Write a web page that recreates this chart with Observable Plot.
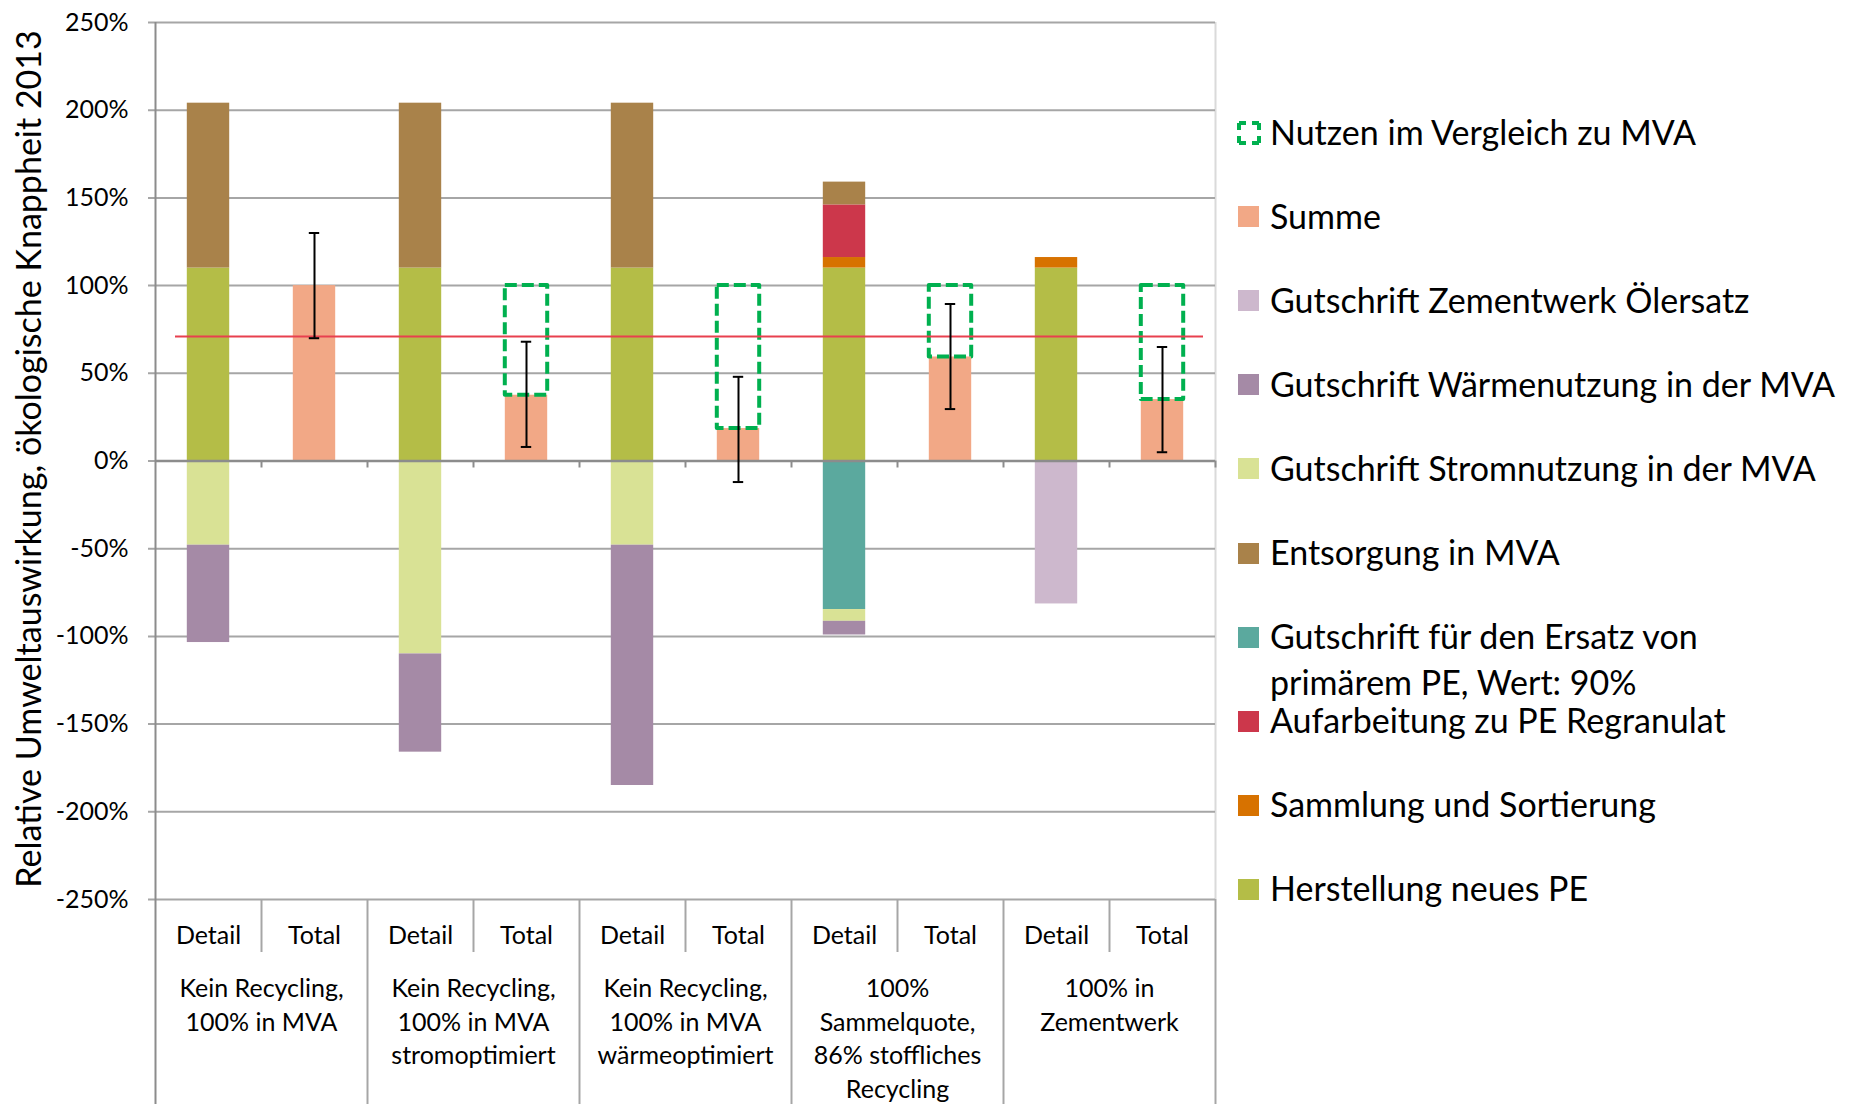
<!DOCTYPE html>
<html><head><meta charset="utf-8">
<script src="https://cdn.jsdelivr.net/npm/d3@7"></script>
<script src="https://cdn.jsdelivr.net/npm/@observablehq/plot@0.6"></script>
<style>
body{margin:0;background:#fff;font-family:Lato,sans-serif;}
#wrap{position:relative;width:1861px;height:1104px;overflow:hidden;background:#fff;}
#chart{position:absolute;left:0;top:0;}
#legend{position:absolute;left:0;top:0;width:1861px;height:1104px;pointer-events:none;}
.lt{position:absolute;left:1270px;font-size:34px;line-height:46px;color:#000;white-space:nowrap;}
.sw{position:absolute;left:1238px;width:21px;height:21px;}
</style></head><body><div id="wrap"><div id="chart"></div><div id="legend"></div></div>
<script>
// ---- Data ----
const slotLabels = ["Detail","Total","Detail","Total","Detail","Total","Detail","Total","Detail","Total"];
const scenarioLabels = [
  "Kein Recycling,\n100% in MVA",
  "Kein Recycling,\n100% in MVA\nstromoptimiert",
  "Kein Recycling,\n100% in MVA\nwärmeoptimiert",
  "100%\nSammelquote,\n86% stoffliches\nRecycling",
  "100% in\nZementwerk"
];
const yTicks = [-250,-200,-150,-100,-50,0,50,100,150,200,250];
const yTitle = "Relative Umweltauswirkung, ökologische Knappheit 2013";

// Detail bar components per scenario (%)
const herstellungNeuesPE     = [110, 110, 110, 110, 110];
const sammlungSortierung     = [0, 0, 0, 6, 6];
const aufarbeitungRegranulat = [0, 0, 0, 30, 0];
const entsorgungMVA          = [94, 94, 94, 13, 0];
const gutschriftErsatzPE     = [0, 0, 0, -84.7, 0];
const gutschriftStrom        = [-48, -110, -48, -6.7, 0];
const gutschriftWaerme       = [-55.5, -56, -137, -7.8, 0];
const gutschriftZement       = [0, 0, 0, 0, -81.5];

// Total bars
const summe       = [100, 37.5, 18.5, 59.3, 35];
const fehlerOben  = [130, 68, 48, 89.5, 65];
const fehlerUnten = [70, 8, -12, 29.6, 5];
const nutzenBis   = [null, 100, 100, 100, 100];
const referenzLinie = 71;

// Series (stack order) and colours
const seriesNames = [
  "Herstellung neues PE","Sammlung und Sortierung","Aufarbeitung zu PE Regranulat","Entsorgung in MVA",
  "Gutschrift für den Ersatz von primärem PE, Wert: 90%","Gutschrift Stromnutzung in der MVA",
  "Gutschrift Wärmenutzung in der MVA","Gutschrift Zementwerk Ölersatz"
];
const seriesValues = [herstellungNeuesPE, sammlungSortierung, aufarbeitungRegranulat, entsorgungMVA,
  gutschriftErsatzPE, gutschriftStrom, gutschriftWaerme, gutschriftZement];
const seriesColors = ["#b4bd47","#d77200","#cc374b","#a9824a","#5ba99e","#d9e295","#a58aa6","#cdb8cd"];
const summeColor = "#f2a886";
const nutzenColor = "#00b04f";

// Legend (top to bottom)
const legendLabels = [
  "Nutzen im Vergleich zu MVA","Summe","Gutschrift Zementwerk Ölersatz","Gutschrift Wärmenutzung in der MVA",
  "Gutschrift Stromnutzung in der MVA","Entsorgung in MVA","Gutschrift für den Ersatz von\nprimärem PE, Wert: 90%",
  "Aufarbeitung zu PE Regranulat","Sammlung und Sortierung","Herstellung neues PE"
];
const legendColors = [nutzenColor, summeColor, "#cdb8cd","#a58aa6","#d9e295","#a9824a","#5ba99e","#cc374b","#d77200","#b4bd47"];

// ---- Build table rows ----
const stacked = [];
for (let i = 0; i < scenarioLabels.length; i++) {
  let pos = 0, neg = 0;
  seriesValues.forEach((vals, s) => {
    const v = vals[i];
    if (v > 0) { stacked.push({slot: 2*i, y1: pos, y2: pos + v, fill: seriesColors[s]}); pos += v; }
    else if (v < 0) { stacked.push({slot: 2*i, y1: neg, y2: neg + v, fill: seriesColors[s]}); neg += v; }
  });
}
const totals = summe.map((v, i) => ({slot: 2*i+1, summe: v, hi: fehlerOben[i], lo: fehlerUnten[i], nutzen: nutzenBis[i]}));
const caps = totals.flatMap(d => [{slot: d.slot, y: d.hi}, {slot: d.slot, y: d.lo}]);
const slots = slotLabels.map((label, i) => ({slot: i, label}));
const scen = scenarioLabels.map((label, i) => ({pos: 2*i + 1, label}));

const gridC = "#a6a6a6", axisC = "#8c8c8c";
const bx1 = d => d.slot + 0.3, bx2 = d => d.slot + 0.7;

const chart = Plot.plot({
  width: 1225, height: 1104,
  marginLeft: 155, marginRight: 10, marginTop: 22, marginBottom: 205,
  style: {fontFamily: "Lato, sans-serif", fontSize: "25px", background: "white", color: "#000"},
  x: {domain: [0, 10], axis: null},
  y: {domain: [-250, 250], axis: null},
  marks: [
    // right border of plot area
    Plot.ruleX([10], {stroke: "#dadada", strokeWidth: 2}),
    // gridlines with outward ticks
    Plot.ruleY(yTicks, {stroke: gridC, strokeWidth: 2, insetLeft: -7}),
    // bars
    Plot.rect(stacked, {x1: bx1, x2: bx2, y1: "y1", y2: "y2", fill: "fill"}),
    Plot.rect(totals, {x1: bx1, x2: bx2, y1: 0, y2: "summe", fill: summeColor}),
    // zero axis + category ticks
    Plot.ruleY([0], {stroke: axisC, strokeWidth: 2.5}),
    Plot.ruleX(d3.range(1, 11), {y1: 0, y2: 0, insetBottom: -7, stroke: axisC, strokeWidth: 2}),
    // left axis (continues through category table)
    Plot.ruleX([0], {stroke: axisC, strokeWidth: 2, insetBottom: -205}),
    // category table lines
    Plot.ruleX([2, 4, 6, 8, 10], {y1: -250, y2: -250, insetBottom: -205, stroke: gridC, strokeWidth: 2}),
    Plot.ruleX([1, 3, 5, 7, 9], {y1: -250, y2: -250, insetBottom: -53, stroke: gridC, strokeWidth: 2}),
    // benefit boxes
    Plot.rect(totals.filter(d => d.nutzen != null), {x1: bx1, x2: bx2, y1: "summe", y2: "nutzen",
      fill: "none", stroke: nutzenColor, strokeWidth: 4, strokeDasharray: "12,5", strokeLinejoin: "round"}),
    // reference line
    Plot.ruleY([referenzLinie], {stroke: "#e8404f", strokeWidth: 2, insetLeft: 20, insetRight: 12}),
    // error bars
    Plot.ruleX(totals, {x: d => d.slot + 0.5, y1: "lo", y2: "hi", stroke: "#000", strokeWidth: 2}),
    Plot.ruleY(caps, {x1: bx1, x2: bx2, y: "y", stroke: "#000", strokeWidth: 2, insetLeft: 16, insetRight: 16}),
    // y axis labels
    Plot.axisY(yTicks, {tickSize: 0, tickPadding: 27, tickFormat: d => d + "%", fontSize: 25, fill: "#000"}),
    Plot.text([yTitle], {frameAnchor: "left", textAnchor: "middle", lineAnchor: "middle", dx: -125, dy: -2, rotate: -90, fontSize: 34, fill: "#000"}),
    // category labels
    Plot.text(slots, {x: d => d.slot + 0.5, text: "label", frameAnchor: "bottom", dy: 36, lineAnchor: "middle", fontSize: 25, fill: "#000"}),
    Plot.text(scen, {x: "pos", text: "label", frameAnchor: "bottom", dy: 74, lineAnchor: "top", lineHeight: 1.34, fontSize: 25, fill: "#000"})
  ]
});
document.getElementById("chart").appendChild(chart);

// ---- Legend ----
const lg = document.getElementById("legend");
const c0 = 132.5, step = 84.1;
legendLabels.forEach((label, k) => {
  const cy = c0 + step * k;
  const t = document.createElement("div");
  t.className = "lt";
  t.style.top = (cy - 24) + "px";
  t.innerHTML = label.split("\n").join("<br>");
  lg.appendChild(t);
  if (k === 0) {
    const ns = "http://www.w3.org/2000/svg";
    const s = document.createElementNS(ns, "svg");
    s.setAttribute("width", 26); s.setAttribute("height", 26);
    s.style.position = "absolute"; s.style.left = "1236px"; s.style.top = (cy - 13) + "px";
    const r = document.createElementNS(ns, "rect");
    r.setAttribute("x", 3); r.setAttribute("y", 3); r.setAttribute("width", 20); r.setAttribute("height", 20);
    r.setAttribute("fill", "none"); r.setAttribute("stroke", legendColors[k]); r.setAttribute("stroke-width", 4);
    r.setAttribute("stroke-dasharray", "7 6 7 0");
    s.appendChild(r); lg.appendChild(s);
  } else {
    const sw = document.createElement("div");
    sw.className = "sw";
    sw.style.top = (cy - 10.5) + "px";
    sw.style.background = legendColors[k];
    lg.appendChild(sw);
  }
});
</script></body></html>
